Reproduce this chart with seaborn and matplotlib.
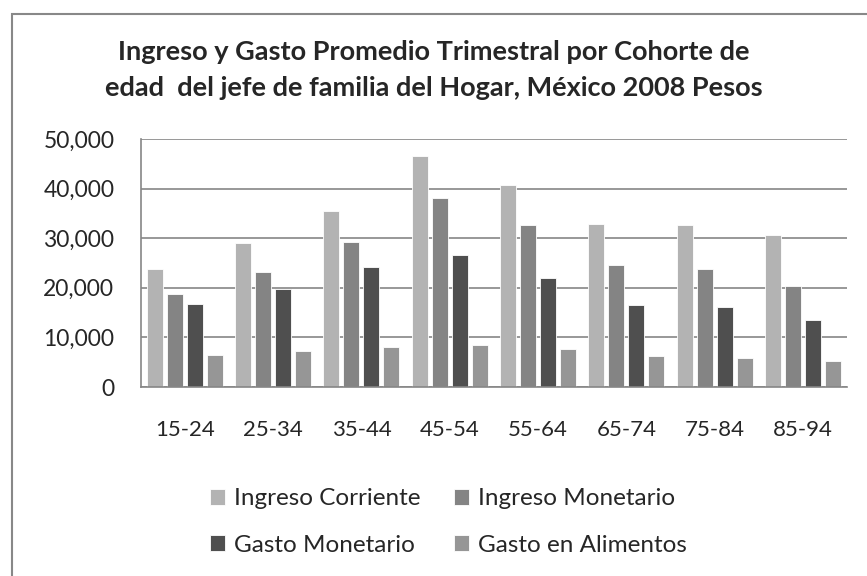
import matplotlib
matplotlib.use("Agg")
import matplotlib.pyplot as plt
import seaborn as sns
import pandas as pd
from matplotlib.patches import Rectangle
from matplotlib.ticker import FuncFormatter

categories = ["15-24", "25-34", "35-44", "45-54", "55-64", "65-74", "75-84", "85-94"]
series_names = ["Ingreso Corriente", "Ingreso Monetario", "Gasto Monetario", "Gasto en Alimentos"]
ingreso_corriente = [23800, 28970, 35550, 46570, 40790, 32860, 32730, 30710]
ingreso_monetario = [18700, 23250, 29230, 38170, 32660, 24530, 23790, 20360]
gasto_monetario = [16800, 19760, 24190, 26680, 22040, 16530, 16060, 13580]
gasto_alimentos = [6520, 7330, 8130, 8540, 7730, 6320, 5780, 5240]
colors = ["#b3b3b3", "#848484", "#4f4f4f", "#969696"]

rows = []
for name, vals in zip(series_names,
                      [ingreso_corriente, ingreso_monetario, gasto_monetario, gasto_alimentos]):
    for c, v in zip(categories, vals):
        rows.append({"Cohorte": c, "Serie": name, "Valor": v})
df = pd.DataFrame(rows)

sns.set_style("white")
plt.rcParams["font.family"] = ["Lato", "DejaVu Sans"]

fig = plt.figure(figsize=(8.67, 5.76), dpi=100)
ax = fig.add_axes([0.1623, 0.328, 0.977 - 0.1623, 0.7587 - 0.328])

sns.barplot(data=df, x="Cohorte", y="Valor", hue="Serie", palette=colors,
            order=categories, hue_order=series_names, width=0.906, gap=0.2,
            edgecolor="white", linewidth=0.6, ax=ax, legend=True)

ax.set_ylim(0, 50000)
ax.set_yticks(range(0, 50001, 10000))
ax.yaxis.set_major_formatter(FuncFormatter(lambda v, p: f"{int(v):,}"))
ax.grid(axis="y", color="#868686", linewidth=1.2)
ax.set_axisbelow(True)
for s in ["top", "right"]:
    ax.spines[s].set_visible(False)
for s in ["left", "bottom"]:
    ax.spines[s].set_color("#868686")
    ax.spines[s].set_linewidth(1.2)
ax.set_xlabel("")
ax.set_ylabel("")
ax.tick_params(axis="x", length=0, pad=24, labelsize=16)
ax.tick_params(axis="y", length=0, pad=19, labelsize=16.5)

h, l = ax.get_legend_handles_labels()
ax.get_legend().remove()
order = [0, 2, 1, 3]
fig.legend([h[i] for i in order], [l[i] for i in order], ncol=2, loc="center",
           bbox_to_anchor=(0.517, 1 - 522 / 576),
           frameon=False, fontsize=17.5, handlelength=0.62, handleheight=0.62,
           handletextpad=0.35, columnspacing=1.4, labelspacing=1.05)

fig.text(0.5006, 1 - 52 / 576, "Ingreso y Gasto Promedio Trimestral por Cohorte de",
         ha="center", va="center", fontsize=19.5, fontweight="bold")
fig.text(0.5006, 1 - 88 / 576, "edad  del jefe de familia del Hogar, México 2008 Pesos",
         ha="center", va="center", fontsize=19.5, fontweight="bold")

fig.patches.append(Rectangle((12 / 867, -0.1), 1.2, 1 - 13.5 / 576 + 0.1,
                             transform=fig.transFigure, fill=False,
                             edgecolor="#888888", linewidth=1.5))

fig.savefig("out.png", dpi=100)
